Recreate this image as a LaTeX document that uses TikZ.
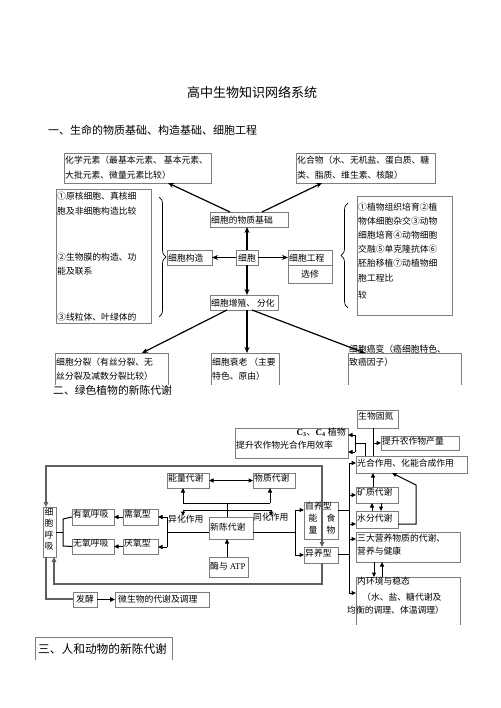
\documentclass[tikz,border=0pt]{standalone}
\usepackage{fontspec}
\setmainfont{Liberation Serif}
\newfontfamily\cjk{Noto Sans CJK SC}
\usetikzlibrary{arrows.meta,decorations.pathreplacing,calc}
\definecolor{boxc}{RGB}{125,125,125}
\definecolor{framec}{RGB}{95,95,95}
\newcommand\bx[6][]{\node[box,#1,minimum width={#5pt-#3pt},minimum height={#6pt-#4pt}] (#2) at ({(#3+#5)/2},{(#4+#6)/2}) {};}
\newcommand\ob[5]{\node[inner sep=0,outer sep=0,minimum width={#4pt-#2pt},minimum height={#5pt-#3pt}] (#1) at ({(#2+#4)/2},{(#3+#5)/2}) {};
  \draw[boxline] (#1.south west) -- (#1.north west) -- (#1.north east) -- (#1.south east);}
\newcommand\tx[5][]{\node[txt,#1] (#2) at (#3,#4) {#5};}
\begin{document}
\begin{tikzpicture}[x=1pt,y=-1pt,
  box/.style={draw=boxc,line width=0.6pt,inner sep=0,outer sep=0},
  boxline/.style={draw=boxc,line width=0.6pt},
  txt/.style={font=\cjk\fontsize{8.8}{10}\selectfont,inner sep=0,anchor=west},
  arrone/.style={-{Stealth[length=6pt,width=5pt]},line width=1.2pt},
  arrtwo/.style={-{Triangle[length=4.5pt,width=4pt]},line width=1pt},
  lntwo/.style={line width=1pt},
  frame/.style={draw=framec,line width=1.5pt},
  brc/.style={decorate,decoration={brace,amplitude=7pt},line width=0.7pt}]
\useasboundingbox (0,0) rectangle (500,708);
\fill[white] (0,0) rectangle (500,708);

% ---------- titles
\node[inner sep=0,font=\cjk\fontsize{13}{15}\selectfont] (title) at (252,92) {高中生物知识网络系统};
\node[inner sep=0,anchor=west,font=\cjk\fontsize{11}{13}\selectfont] (h1) at (48,130) {一、生命的物质基础、构造基础、细胞工程};

% ---------- section 1 boxes
\bx{b1}{64}{153}{211}{183}
\tx{b1a}{65}{160}{化学元素（最基本元素、 基本元素、}
\tx{b1b}{65}{175}{大批元素、微量元素比较）}
\bx{b2}{296}{153}{435}{183}
\tx{b2a}{297}{160}{化合物（水、无机盐、蛋白质、糖}
\tx{b2b}{297}{175}{类、脂质、维生素、核酸）}

\bx{b3}{56}{189}{151}{323}
\tx{b3a}{57}{196}{①原核细胞、真核细}
\tx{b3b}{57}{211}{胞及非细胞构造比较}
\tx{b3c}{57}{257}{②生物膜的构造、功}
\tx{b3d}{57}{271}{能及联系}
\tx{b3e}{57}{317}{③线粒体、叶绿体的}

\bx{b4}{357}{196}{452}{315}
\tx{b4a}{358}{207}{①植物组织培育②植}
\tx{b4b}{358}{221}{物体细胞杂交③动物}
\tx{b4c}{358}{235}{细胞培育④动物细胞}
\tx{b4d}{358}{249}{交融⑤单克隆抗体⑥}
\tx{b4e}{358}{263}{胚胎移植⑦动植物细}
\tx{b4f}{358}{278}{胞工程比}
\tx{b4g}{358}{295}{较}

\draw[brc] (159,197) -- (159,317);
\draw[brc] (348,308) -- (348,203);

\bx{jc}{210}{212}{288}{227} \tx{jct}{211}{220}{细胞的物质基础}
\bx{gz}{167}{250}{212}{265} \tx{gzt}{168}{258}{细胞构造}
\bx{xb}{236}{250}{258}{265} \tx{xbt}{238}{258}{细胞}
\bx{gc}{288}{250}{332}{265} \tx{gct}{289}{258}{细胞工程}
\bx{xx}{288}{265}{332}{283} \tx[anchor=center]{xxt}{310}{274}{选修}
\bx{zz}{210}{295}{278}{310} \tx{zzt}{211}{303}{细胞增殖、 分化}

\ob{fl}{55}{353}{168}{385}
\tx{fla}{56}{362}{细胞分裂（有丝分裂、无}
\tx{flb}{56}{376}{丝分裂及减数分裂比较）}
\ob{sl}{211}{353}{279}{385}
\tx{sla}{212}{362}{细胞衰老 （主要}
\tx{slb}{212}{376}{特色、原由）}
\ob{ab}{348}{353}{461}{385}
\tx{aba}{349}{349}{细胞癌变（癌细胞特色、}
\tx{abb}{349}{362}{致癌因子）}

\draw[arrone] (xb.north) -- (xb.north |- jc.south);
\draw[arrone] (xb.west) -- (gz.east);
\draw[arrone] (xb.east) -- (gc.west);
\draw[arrone] (xb.south) -- (xb.south |- zz.north);
\draw[arrone] (xb.south |- zz.south) -- (xb.south |- sl.north);
\draw[arrone] ([xshift=20pt]jc.north west) -- ([xshift=104pt]b1.south west);
\draw[arrone] ([xshift=52pt]jc.north west) -- ([xshift=26pt]b2.south west);
\draw[arrone] ([xshift=17pt]zz.south west) -- ([xshift=87pt]fl.north west);
\draw[arrone] ([xshift=42pt]zz.south west) -- ([xshift=17pt]ab.north west);

% ---------- section 2
\node[inner sep=0,anchor=west,font=\cjk\fontsize{10.8}{13}\selectfont] (h2) at (53,390) {二、绿色植物的新陈代谢};

\bx{gd}{357}{410}{398}{428} \tx{gdt}{358}{416}{生物固氮}
\bx{c34}{235}{428}{348}{458}
\node[inner sep=0,anchor=east,font=\fontsize{9}{10}\selectfont] (c34a) at (346,432) {\textbf{C\textsubscript{3}}{\cjk 、}\textbf{C\textsubscript{4}} {\cjk 植物}};
\tx{c34b}{236}{445}{提升农作物光合作用效率}
\bx{cl}{381}{436}{459}{450} \tx{clt}{382}{441}{提升农作物产量}
\bx{gh}{356}{456}{467}{473} \tx{ght}{357}{463}{光合作用、化能合成作用}
\bx{kz}{356}{487}{398}{503} \tx{kzt}{357}{492}{矿质代谢}
\bx{sf}{356}{511}{398}{528} \tx{sft}{357}{518}{水分代谢}
\bx{sd}{356}{532}{460}{562}
\tx{sda}{357}{538}{三大营养物质的代谢、}
\tx{sdb}{357}{551}{营养与健康}
\ob{nh}{356}{577}{460}{625}
\tx{nha}{357}{581}{内环境与稳态}
\tx{nhb}{362}{597}{（水、盐、糖代谢及}
\tx{nhc}{347}{610}{均衡的调理、体温调理）}

% right column connectors
\coordinate (vt) at (349,463);
\coordinate (vb) at (349,593);
\coordinate (v2) at (349,495);
\coordinate (v3) at (349,524);
\coordinate (v4) at (349,539);
\draw[lntwo] (vt) -- (vb);
\draw[arrtwo] (vt) -- (vt -| gh.west);
\draw[arrtwo] (v2) -- (v2 -| kz.west);
\draw[arrtwo] (v3) -- (v3 -| sf.west);
\draw[arrtwo] (v4) -- (v4 -| sd.west);
\draw[arrtwo] (vb) -- (vb -| nh.west);

\coordinate (g1) at (365,456);
\coordinate (g2) at (365,443);
\coordinate (g3) at (355,443);
\coordinate (g4) at (355,435);
\coordinate (g5) at (355,452);
\draw[lntwo] (g1) -- (g2) -- (g3);
\draw[lntwo] (g4) -- (g5);
\draw[arrtwo] (g4) -- (g4 -| c34.east);
\draw[arrtwo] (g5) -- (g5 -| c34.east);

\draw[lntwo] ([xshift=16pt]gd.south west) -- ([xshift=17pt]gh.north west);
\coordinate (f1) at (373,443);
\draw[arrtwo] (f1) -- (f1 -| cl.west);

\draw[arrtwo] ([xshift=17pt]kz.north west) -- ([xshift=17pt]gh.south west);
\coordinate (s2) at (416,524);
\coordinate (s3) at (416,485);
\draw[arrtwo] (s2 -| sf.east) -- (s2) -- (s3) -- ([xshift=36pt]gh.south west);
\draw[arrtwo] ([xshift=16pt]sf.north west) -- ([xshift=16pt]kz.south west);
\draw[arrtwo] ([xshift=25pt]kz.south west) -- ([xshift=25pt]sf.north west);
\draw[arrtwo] ([xshift=18pt]sd.south west) -- ([xshift=18pt]nh.north west);
\draw[arrtwo] ([xshift=26pt]nh.north west) -- ([xshift=26pt]sd.south west);

% left part
\bx{nl}{167}{473}{209}{488} \tx{nlt}{168}{478}{能量代谢}
\bx{wz}{253}{473}{295}{488} \tx{wzt}{254}{478}{物质代谢}
\draw[{Triangle[length=4.5pt,width=4pt]}-{Triangle[length=4.5pt,width=4pt]},line width=1pt] (nl.east) -- (wz.west);
\bx{xc}{209}{517}{253}{539} \tx{xct}{210}{527}{新陈代谢}
\bx{my}{209}{557}{248}{577}
\node[txt] (myt) at (210,566) {酶与 {\rmfamily ATP}};
\tx{yh}{168}{519}{异化作用}
\tx{th}{253}{517}{同化作用}
\bx{xy}{123}{509}{158}{525} \tx{xyt}{124}{514}{需氧型}
\bx{yy}{123}{539}{158}{554} \tx{yyt}{124}{543}{厌氧型}
\bx{yo}{72}{509}{114}{525} \tx{yot}{73}{514}{有氧呼吸}
\bx{wy}{72}{539}{114}{554} \tx{wyt}{73}{543}{无氧呼吸}
\bx{hx}{43}{507}{56}{557}
\tx[anchor=center]{hx1}{49}{512}{细}
\tx[anchor=center]{hx2}{49}{523}{胞}
\tx[anchor=center]{hx3}{49}{535}{呼}
\tx[anchor=center]{hx4}{49}{546}{吸}
\bx{zy}{304}{502}{338}{539}
\tx{zyt}{305}{506}{自养型}
\tx[anchor=center]{zy1}{313}{518}{能}
\tx[anchor=center]{zy2}{313}{530}{量}
\tx[anchor=center]{zy3}{331}{518}{食}
\tx[anchor=center]{zy4}{331}{530}{物}
\bx{ys}{304}{547}{338}{563} \tx{yst}{305}{553}{异养型}
\bx{fj}{73}{592}{97}{607} \tx{fjt}{76}{599}{发酵}
\bx{ws}{115}{592}{209}{607} \tx{wst}{118}{599}{微生物的代谢及调理}

\coordinate (m1) at (227,503);
\coordinate (e1) at (183,503);
\coordinate (e2) at (270,503);
\draw[lntwo] (m1 |- xc.north) -- (m1);
\draw[lntwo] (e1) -- (e2);
\draw[arrtwo] (e1) -- (e1 |- nl.south);
\draw[arrtwo] (e2) -- (e2 |- wz.south);
\coordinate (d1) at (183,510);
\coordinate (d2) at (271,510);
\coordinate (d1e) at (183,516);
\coordinate (d2e) at (271,516);
\draw[lntwo] (d1) -- (d2);
\draw[arrtwo] (d1) -- (d1e);
\draw[arrtwo] (d2) -- (d2e);

\coordinate (l0) at (167,532);
\coordinate (l1) at (167,517);
\coordinate (l2) at (167,547);
\draw[lntwo] (l0 -| xc.west) -- (l0);
\draw[lntwo] (l1) -- (l2);
\draw[arrtwo] (l1) -- (l1 -| xy.east);
\draw[arrtwo] (l2) -- (l2 -| yy.east);
\draw[arrtwo] (xy.west) -- (yo.east);
\draw[arrtwo] (yy.west) -- (wy.east);
\coordinate (k1) at (63,519);
\coordinate (k2) at (63,546);
\coordinate (k3) at (63,532);
\draw[lntwo] (yo.west) -- (k1) -- (k2) -- (wy.west);
\draw[lntwo] (k3) -- (k3 -| hx.east);

\coordinate (r0) at (295,532);
\coordinate (r1) at (295,510);
\coordinate (r2) at (295,555);
\draw[lntwo] (r0 -| xc.east) -- (r0);
\draw[lntwo] (r1) -- (r2);
\draw[arrtwo] (r1) -- (r1 -| zy.west);
\draw[arrtwo] (r2) -- (r2 -| ys.west);
\draw[arrtwo] (m1 |- my.north) -- (m1 |- xc.south);

\coordinate (zr) at (349,510);
\coordinate (yr) at (349,554);
\draw[lntwo] (zr -| zy.east) -- (zr);
\draw[lntwo] (yr -| ys.east) -- (yr);

% frame
\coordinate (fa) at (46,466);
\coordinate (fb) at (322,466);
\coordinate (fc) at (322,584);
\coordinate (fd) at (54,584);
\coordinate (fe) at (46,599);
\draw[frame,{Triangle[length=5pt,width=4.5pt]}-{Triangle[length=5pt,width=4.5pt]}] (fb |- ys.north) -- (fb) -- (fa) -- (fa |- hx.north);
\draw[frame,-{Triangle[length=5pt,width=4.5pt]}] (fc |- ys.south) -- (fc) -- (fd) -- (fd |- hx.south);
\draw[frame] (fa |- hx.south) -- (fe) -- (fe -| fj.west);
\draw[-{Triangle[length=5pt,width=4.5pt]},line width=1.5pt] (fj.east) -- (ws.west);

% ---------- section 3
\ob{s3}{35}{637}{172}{660}
\node[inner sep=0,anchor=west,font=\cjk\fontsize{11.7}{13}\selectfont] (h3) at (38,649) {三、人和动物的新陈代谢};
\end{tikzpicture}
\end{document}
